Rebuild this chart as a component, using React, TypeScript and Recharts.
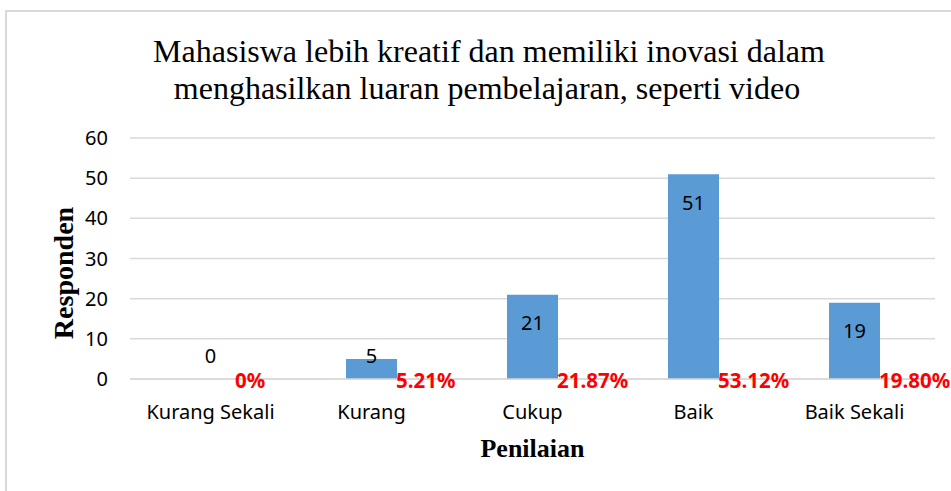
import React from "react";
import { BarChart, Bar, XAxis, YAxis, CartesianGrid, LabelList, Label, Rectangle } from "recharts";

const categories = ["Kurang Sekali", "Kurang", "Cukup", "Baik", "Baik Sekali"];
const responden = [0, 5, 21, 51, 19];
const persen = ["0%", "5.21%", "21.87%", "53.12%", "19.80%"];
const yTicks = [0, 10, 20, 30, 40, 50, 60];

const data = categories.map((name, i) => ({
  name,
  responden: responden[i],
  persen: persen[i],
}));

const sansFont = "'Noto Sans', 'Open Sans', sans-serif";
const serifFont = "'Liberation Serif', 'Times New Roman', serif";

// label angka di dalam ujung batang (untuk batang pendek ditahan di atas garis 0)
const ValueLabel = (props: any) => {
  const { x, y, width, value } = props;
  const ty = Math.min(y + 28, 355);
  return (
    <text
      x={x + width / 2}
      y={ty}
      textAnchor="middle"
      dominantBaseline="central"
      fontFamily={sansFont}
      fontSize={20}
      fill="#000"
    >
      {value}
    </text>
  );
};

// persentase merah di kanan bawah batang
const PercentLabel = (props: any) => {
  const { x, y, width, height, value } = props;
  return (
    <text
      x={x + width - 1}
      y={y + height + 9}
      textAnchor="start"
      fontFamily={sansFont}
      fontWeight="bold"
      fontSize={20.5}
      fill="#ff0000"
    >
      {value}
    </text>
  );
};

// batang bernilai 0 tetap dipakai untuk posisi label, tapi tidak digambar
const BarShape = (props: any) => {
  if (!props.responden) return <g />;
  return <Rectangle {...props} />;
};

export default function App() {
  return (
    <div style={{ position: "absolute", left: 0, top: 0, width: 951, height: 491, background: "#fff", overflow: "hidden" }}>
      <div
        style={{
          position: "absolute",
          left: 5,
          top: 10,
          width: 960,
          height: 500,
          border: "2px solid #d9d9d9",
          boxSizing: "border-box",
        }}
      />
      <svg style={{ position: "absolute", left: 0, top: 0 }} width={951} height={130}>
        <text x={489} y={62} textAnchor="middle" fontFamily={serifFont} fontSize={32} fill="#000">
          Mahasiswa lebih kreatif dan memiliki inovasi dalam
        </text>
        <text x={487} y={99} textAnchor="middle" fontFamily={serifFont} fontSize={32} fill="#000">
          menghasilkan luaran pembelajaran, seperti video
        </text>
      </svg>
      <div style={{ position: "absolute", left: 0, top: 0 }}>
        <BarChart
          width={951}
          height={491}
          data={data}
          margin={{ top: 138, right: 16, left: 70, bottom: 82 }}
        >
          <CartesianGrid vertical={false} stroke="#d9d9d9" strokeWidth={1.5} />
          <XAxis
            dataKey="name"
            axisLine={{ stroke: "#d9d9d9", strokeWidth: 1.5 }}
            tickLine={false}
            tickSize={0}
            tickMargin={26}
            height={30}
            interval={0}
            tick={{ fill: "#000", fontSize: 20, fontFamily: sansFont }}
          >
            <Label
              content={(p: any) => {
                const vb = p.viewBox;
                return (
                  <text
                    x={vb.x + vb.width / 2}
                    y={448}
                    textAnchor="middle"
                    dominantBaseline="central"
                    fontFamily={serifFont}
                    fontWeight="bold"
                    fontSize={26}
                    fill="#000"
                  >
                    Penilaian
                  </text>
                );
              }}
            />
          </XAxis>
          <YAxis
            domain={[0, 60]}
            ticks={yTicks}
            width={60}
            axisLine={false}
            tickLine={false}
            tickSize={0}
            tickMargin={22}
            tick={{ fill: "#000", fontSize: 20, fontFamily: sansFont }}
          >
            <Label
              content={() => (
                <text
                  x={63}
                  y={273}
                  transform="rotate(-90 63 273)"
                  textAnchor="middle"
                  dominantBaseline="central"
                  fontFamily={serifFont}
                  fontWeight="bold"
                  fontSize={28}
                  fill="#000"
                >
                  Responden
                </text>
              )}
            />
          </YAxis>
          <Bar
            dataKey="responden"
            fill="#5b9bd5"
            barSize={51}
            minPointSize={1}
            shape={BarShape}
            isAnimationActive={false}
          >
            <LabelList dataKey="responden" content={ValueLabel} />
            <LabelList dataKey="persen" content={PercentLabel} />
          </Bar>
        </BarChart>
      </div>
    </div>
  );
}
